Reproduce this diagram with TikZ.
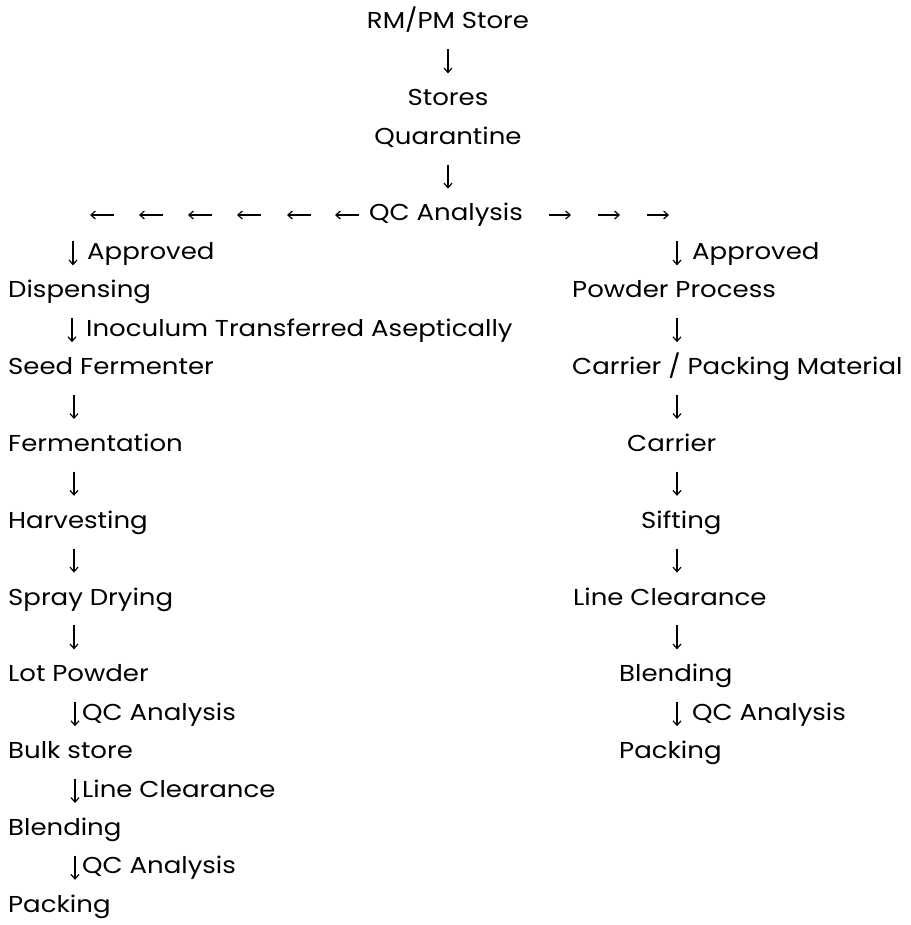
\documentclass[tikz,border=0pt]{standalone}
\usepackage{fontspec}
\setmainfont{Poppins}[FakeStretch=1.13]
\usetikzlibrary{arrows.meta}
\newcommand{\dnarr}[2]{\draw[garrow] (#1,#2-10) -- (#1,#2+14);}
\newcommand{\lfarr}[2]{\draw[garrow] (#1+24,#2+2) -- (#1,#2+2);}
\newcommand{\rtarr}[2]{\draw[garrow] (#1,#2+2) -- (#1+22,#2+2);}
\begin{document}
\begin{tikzpicture}[x=1pt,y=-1pt,
  lbl/.style={inner sep=0pt, anchor=base west, font=\fontsize{23}{23}\selectfont, text=black},
  ctr/.style={lbl, anchor=base},
  garrow/.style={-{Straight Barb[length=4.5pt,width=8pt,line width=1.2pt]}, line width=1.2pt, black}]
\useasboundingbox[fill=white] (0,0) rectangle (910,925);
% top
\node[ctr] (t1) at (448,29) {RM/PM Store};
\dnarr{448}{59.4}
\node[ctr] (t2) at (448,105.8) {Stores};
\node[ctr] (t3) at (448,144.2) {Quarantine};
\dnarr{448}{174.6}
% QC row
\lfarr{90}{213}
\lfarr{139}{213}
\lfarr{188}{213}
\lfarr{237}{213}
\lfarr{287}{213}
\lfarr{335}{213}
\node[lbl] (qc) at (369,221) {QC Analysis};
\rtarr{549}{213}
\rtarr{598}{213}
\rtarr{647}{213}
% left column
\dnarr{73}{251.4}
\node[lbl] (l0) at (87,259.4) {Approved};
\node[lbl] (l1) at (8,297.8) {Dispensing};
\dnarr{72}{328.2}
\node[lbl] (l2) at (86,336.2) {Inoculum Transferred Aseptically};
\node[lbl] (l3) at (8,374.6) {Seed Fermenter};
\dnarr{74}{405}
\node[lbl] (l5) at (8,451.4) {Fermentation};
\dnarr{74}{481.8}
\node[lbl] (l7) at (8,528.2) {Harvesting};
\dnarr{74}{558.6}
\node[lbl] (l9) at (8,605) {Spray Drying};
\dnarr{74}{635.4}
\node[lbl] (l11) at (8,681.8) {Lot Powder};
\dnarr{75}{712.2}
\node[lbl] (l12) at (82,720.2) {QC Analysis};
\node[lbl] (l13) at (8,758.6) {Bulk store};
\dnarr{75}{789}
\node[lbl] (l14) at (82,797) {Line Clearance};
\node[lbl] (l15) at (8,835.4) {Blending};
\dnarr{75}{865.8}
\node[lbl] (l16) at (82,873.8) {QC Analysis};
\node[lbl] (l17) at (8,912.2) {Packing};
% right column
\dnarr{677}{251.4}
\node[lbl] (r0) at (692,259.4) {Approved};
\node[lbl] (r1) at (572,297.8) {Powder Process};
\dnarr{677}{328.2}
\node[lbl] (r3) at (572,374.6) {Carrier / Packing Material};
\dnarr{677}{405}
\node[lbl] (r5) at (627,451.4) {Carrier};
\dnarr{677}{481.8}
\node[lbl] (r7) at (641,528.2) {Sifting};
\dnarr{677}{558.6}
\node[lbl] (r9) at (573,605) {Line Clearance};
\dnarr{677}{635.4}
\node[lbl] (r11) at (619,681.8) {Blending};
\dnarr{677}{712.2}
\node[lbl] (r12) at (692,720.2) {QC Analysis};
\node[lbl] (r13) at (619,758.6) {Packing};
\end{tikzpicture}
\end{document}
